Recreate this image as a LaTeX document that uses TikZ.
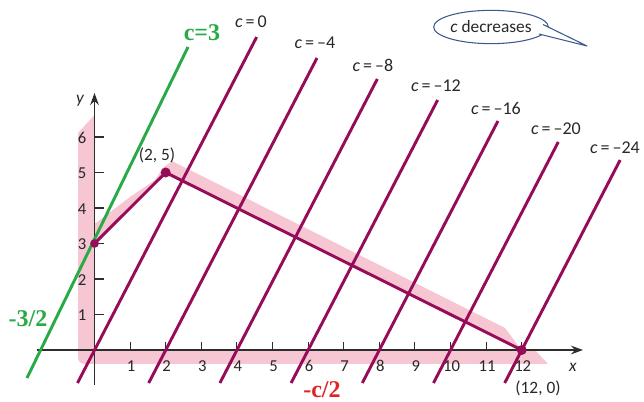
\documentclass[tikz,border=0pt]{standalone}
\usepackage{fontspec}
\setmainfont{Carlito}
\newfontfamily\tnr{Liberation Serif}
\usetikzlibrary{arrows.meta,shapes.geometric}
\definecolor{lineM}{RGB}{150,12,88}
\definecolor{pinkF}{RGB}{246,198,210}
\definecolor{greenL}{RGB}{40,170,70}
\definecolor{redT}{RGB}{222,36,36}
\definecolor{axisC}{RGB}{45,45,45}
\definecolor{bubbleC}{RGB}{60,90,140}
\definecolor{textC}{RGB}{40,40,40}
\begin{document}
\begin{tikzpicture}[x=0.75pt,y=-0.75pt,
  levelline/.style={draw=lineM, line width=2.2pt},
  axisline/.style={draw=axisC, line width=0.9pt},
  tickmark/.style={draw=axisC, line width=0.8pt},
  ticklab/.style={font=\fontsize{12.5}{14}\selectfont, text=textC, inner sep=0pt},
  clab/.style={font=\fontsize{13.5}{16}\selectfont, text=textC, inner sep=0pt},
  ptlab/.style={font=\fontsize{13}{15}\selectfont, text=textC, inner sep=0pt},
  biglab/.style={font=\tnr\bfseries\fontsize{18}{20}\selectfont, inner sep=0pt},
  vdot/.style={circle, fill=lineM, inner sep=0pt, minimum size=7.5pt},
]
\useasboundingbox (0,0) rectangle (644,402);

% pink shading
\fill[pinkF] (78,133) -- (94.5,115) -- (94.5,350) -- (535,350) -- (548,364) -- (86,364)
  .. controls (80,364) and (78,362) .. (78,356) -- cycle;
\fill[pinkF] (94.5,243.5) -- (94.5,224) -- (130,197) -- (155,180) -- (163,168) -- (172,161)
  -- (505,328) -- (517,344) -- (521.7,350) -- (165.7,172.5) -- cycle;

% axes
\coordinate (xs) at (37,350);
\coordinate (xe) at (583,350);
\coordinate (ys) at (94.5,385);
\coordinate (ye) at (94.5,93);
\draw[axisline, -{Stealth[length=9pt,width=6.5pt]}] (xs) -- (xe);
\draw[axisline, -{Stealth[length=9pt,width=6.5pt]}] (ys) -- (ye);
\node[ticklab, font=\itshape\fontsize{13}{15}\selectfont] (xl) at (573,367) {x};
\node[ticklab, font=\itshape\fontsize{13}{15}\selectfont] (yl) at (80,101) {y};

\foreach \k in {1,...,12} {
  \pgfmathsetmacro{\xx}{94.5+35.6*\k}
  \coordinate (xt\k) at (\xx,350);
  \coordinate (xu\k) at (\xx,342);
  \draw[tickmark] (xt\k) -- (xu\k);
  \node[ticklab] (xn\k) at (\xx+1,366) {\k};
}
\foreach \k in {1,...,6} {
  \pgfmathsetmacro{\yy}{350-35.5*\k}
  \coordinate (yt\k) at (94.5,\yy);
  \coordinate (yu\k) at (104,\yy);
  \draw[tickmark] (yt\k) -- (yu\k);
  \node[ticklab] (yn\k) at (82,\yy+1) {\k};
}

% level lines
\foreach \k/\yt in {0/37,1/58,2/79,3/100,4/121,5/142,6/160} {
  \pgfmathsetmacro{\xz}{94.5+71.2*\k}
  \pgfmathsetmacro{\xb}{\xz-17}
  \pgfmathsetmacro{\xtop}{\xz+(350-\yt)/1.93}
  \coordinate (lb\k) at (\xb,383);
  \coordinate (lt\k) at (\xtop,\yt);
  \draw[levelline] (lb\k) -- (lt\k);
}
\node[clab] (c0) at (251,22) {\textit{c}\,=\,0};
\node[clab] (c4) at (315,43) {\textit{c}\,=\,–4};
\node[clab] (c8) at (373,65) {\textit{c}\,=\,–8};
\node[clab] (c12) at (436,86) {\textit{c}\,=\,–12};
\node[clab] (c16) at (496,108) {\textit{c}\,=\,–16};
\node[clab] (c20) at (556,129) {\textit{c}\,=\,–20};
\node[clab] (c24) at (615,148) {\textit{c}\,=\,–24};

% green line c=3
\coordinate (gb) at (27,378);
\coordinate (gt) at (188,47);
\draw[draw=greenL, line width=2.2pt] (gb) -- (gt);
\node[biglab, text=greenL] (g3) at (202,33) {c=3};
\node[biglab, text=greenL] (g32) at (28,319) {-3/2};
\node[biglab, text=redT] (rc2) at (322,390) {-c/2};

% feasible boundary
\coordinate (p03) at (94.5,243.5);
\coordinate (p25) at (165.7,172.5);
\coordinate (p120) at (521.7,350);
\draw[levelline, line join=round] (p03) -- (p25) -- (p120);
\node[vdot, minimum size=6.5pt] (d03) at (p03) {};
\node[vdot] (d25) at (p25) {};
\node[vdot] (d120) at (p120) {};
\node[ptlab] (l25) at (157,155) {(2, 5)};
\node[ptlab] (l120) at (538,388) {(12, 0)};

% speech bubble
\node[draw=bubbleC, line width=0.8pt, fill=white, ellipse, minimum width=81pt, minimum height=25pt,
  inner sep=0pt, font=\fontsize{13}{15}\selectfont, text=textC] (bub) at (491,27) {\textit{c} decreases};
\coordinate (ta) at (543,24.5);
\coordinate (tb) at (539,34);
\coordinate (tip) at (587,46);
\coordinate (ti1) at (535,25);
\coordinate (ti2) at (533,33);
\fill[white] (ti1) -- (ta) -- (tip) -- (tb) -- (ti2) -- cycle;
\draw[bubbleC, line width=0.8pt, line join=round] (ta) -- (tip) -- (tb);
\end{tikzpicture}
\end{document}
